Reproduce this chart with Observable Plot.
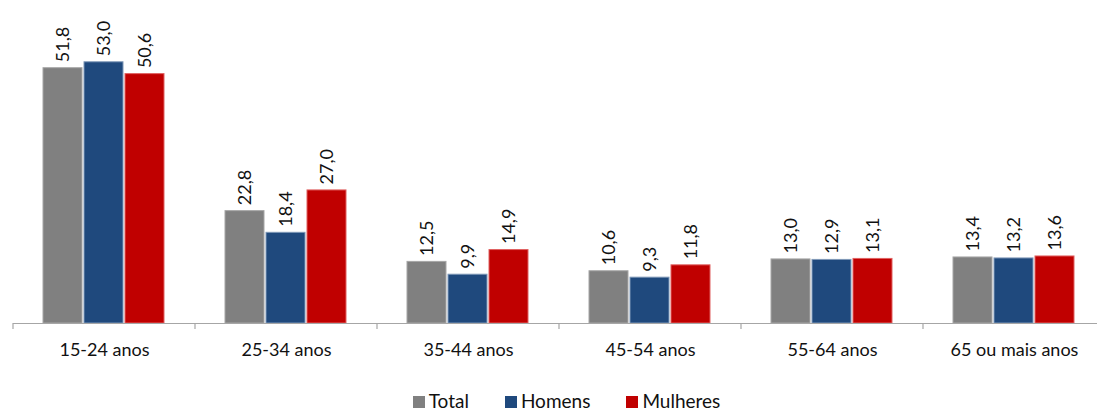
<!DOCTYPE html>
<html><head><meta charset="utf-8">
<script src="https://cdn.jsdelivr.net/npm/d3@7"></script>
<script src="https://cdn.jsdelivr.net/npm/@observablehq/plot@0.6"></script>
<style>
html,body{margin:0;background:#fff;font-family:Lato,"Open Sans",sans-serif;overflow:hidden;}
#chart svg{display:block;}
#legend{display:flex;justify-content:center;gap:36px;font-size:19px;line-height:20px;color:#111;margin-top:21px;padding-left:36px;}
#legend span.sw{display:inline-block;width:12px;height:12px;margin-right:4px;vertical-align:0px;}
</style></head>
<body><div id="chart"></div><div id="legend"></div>
<script>
const categories = ["15-24 anos","25-34 anos","35-44 anos","45-54 anos","55-64 anos","65 ou mais anos"];
const seriesNames = ["Total","Homens","Mulheres"];
const totalValues = [51.8, 22.8, 12.5, 10.6, 13.0, 13.4];
const homensValues = [53.0, 18.4, 9.9, 9.3, 12.9, 13.2];
const mulheresValues = [50.6, 27.0, 14.9, 11.8, 13.1, 13.6];
const colors = ["#808080","#1f497d","#c00000"];
const strokes = ["#a6a6a6","#7f98b8","#e06060"];

const seriesValues = [totalValues, homensValues, mulheresValues];
const data = [];
categories.forEach((c,i)=>seriesNames.forEach((s,j)=>data.push({cat:c, serie:s, value:seriesValues[j][i]})));
const fmt = v => v.toFixed(1).replace(".", ",");

const chart = Plot.plot({
  width: 1097, height: 370,
  marginLeft: 10, marginRight: -10, marginTop: 47, marginBottom: 47,
  style: {fontFamily: "Lato, 'Open Sans', sans-serif", fontSize: "18px", color: "#111"},
  fx: {domain: categories, padding: 0, label: null, axis: "bottom", tickSize: 0, tickPadding: 20},
  x: {domain: seriesNames, paddingInner: 0.04, paddingOuter: 0.7, axis: null},
  y: {domain: [0, 56], axis: null},
  color: {domain: seriesNames, range: colors},
  marks: [
    Plot.barY(data, {fx: "cat", x: "serie", y: "value", fill: "serie", stroke: d => strokes[seriesNames.indexOf(d.serie)], strokeWidth: 1}),
    Plot.ruleY([0], {stroke: "#a6a6a6", strokeWidth: 1.2}),
    Plot.ruleX(categories, {fx: d => d, x: () => "Total", y1: 0, y2: -1.2, dx: -50, stroke: "#a6a6a6", strokeWidth: 1.2}),
    Plot.text(data, {fx: "cat", x: "serie", y: "value", text: d => fmt(d.value), rotate: -90, textAnchor: "start", lineAnchor: "middle", dy: -6, fontSize: 18, fill: "#111"})
  ]
});
document.getElementById("chart").append(chart);

const legend = document.getElementById("legend");
seriesNames.forEach((s,j)=>{
  const item = document.createElement("div");
  item.innerHTML = `<span class="sw" style="background:${colors[j]}"></span>${s}`;
  legend.append(item);
});
</script></body></html>
